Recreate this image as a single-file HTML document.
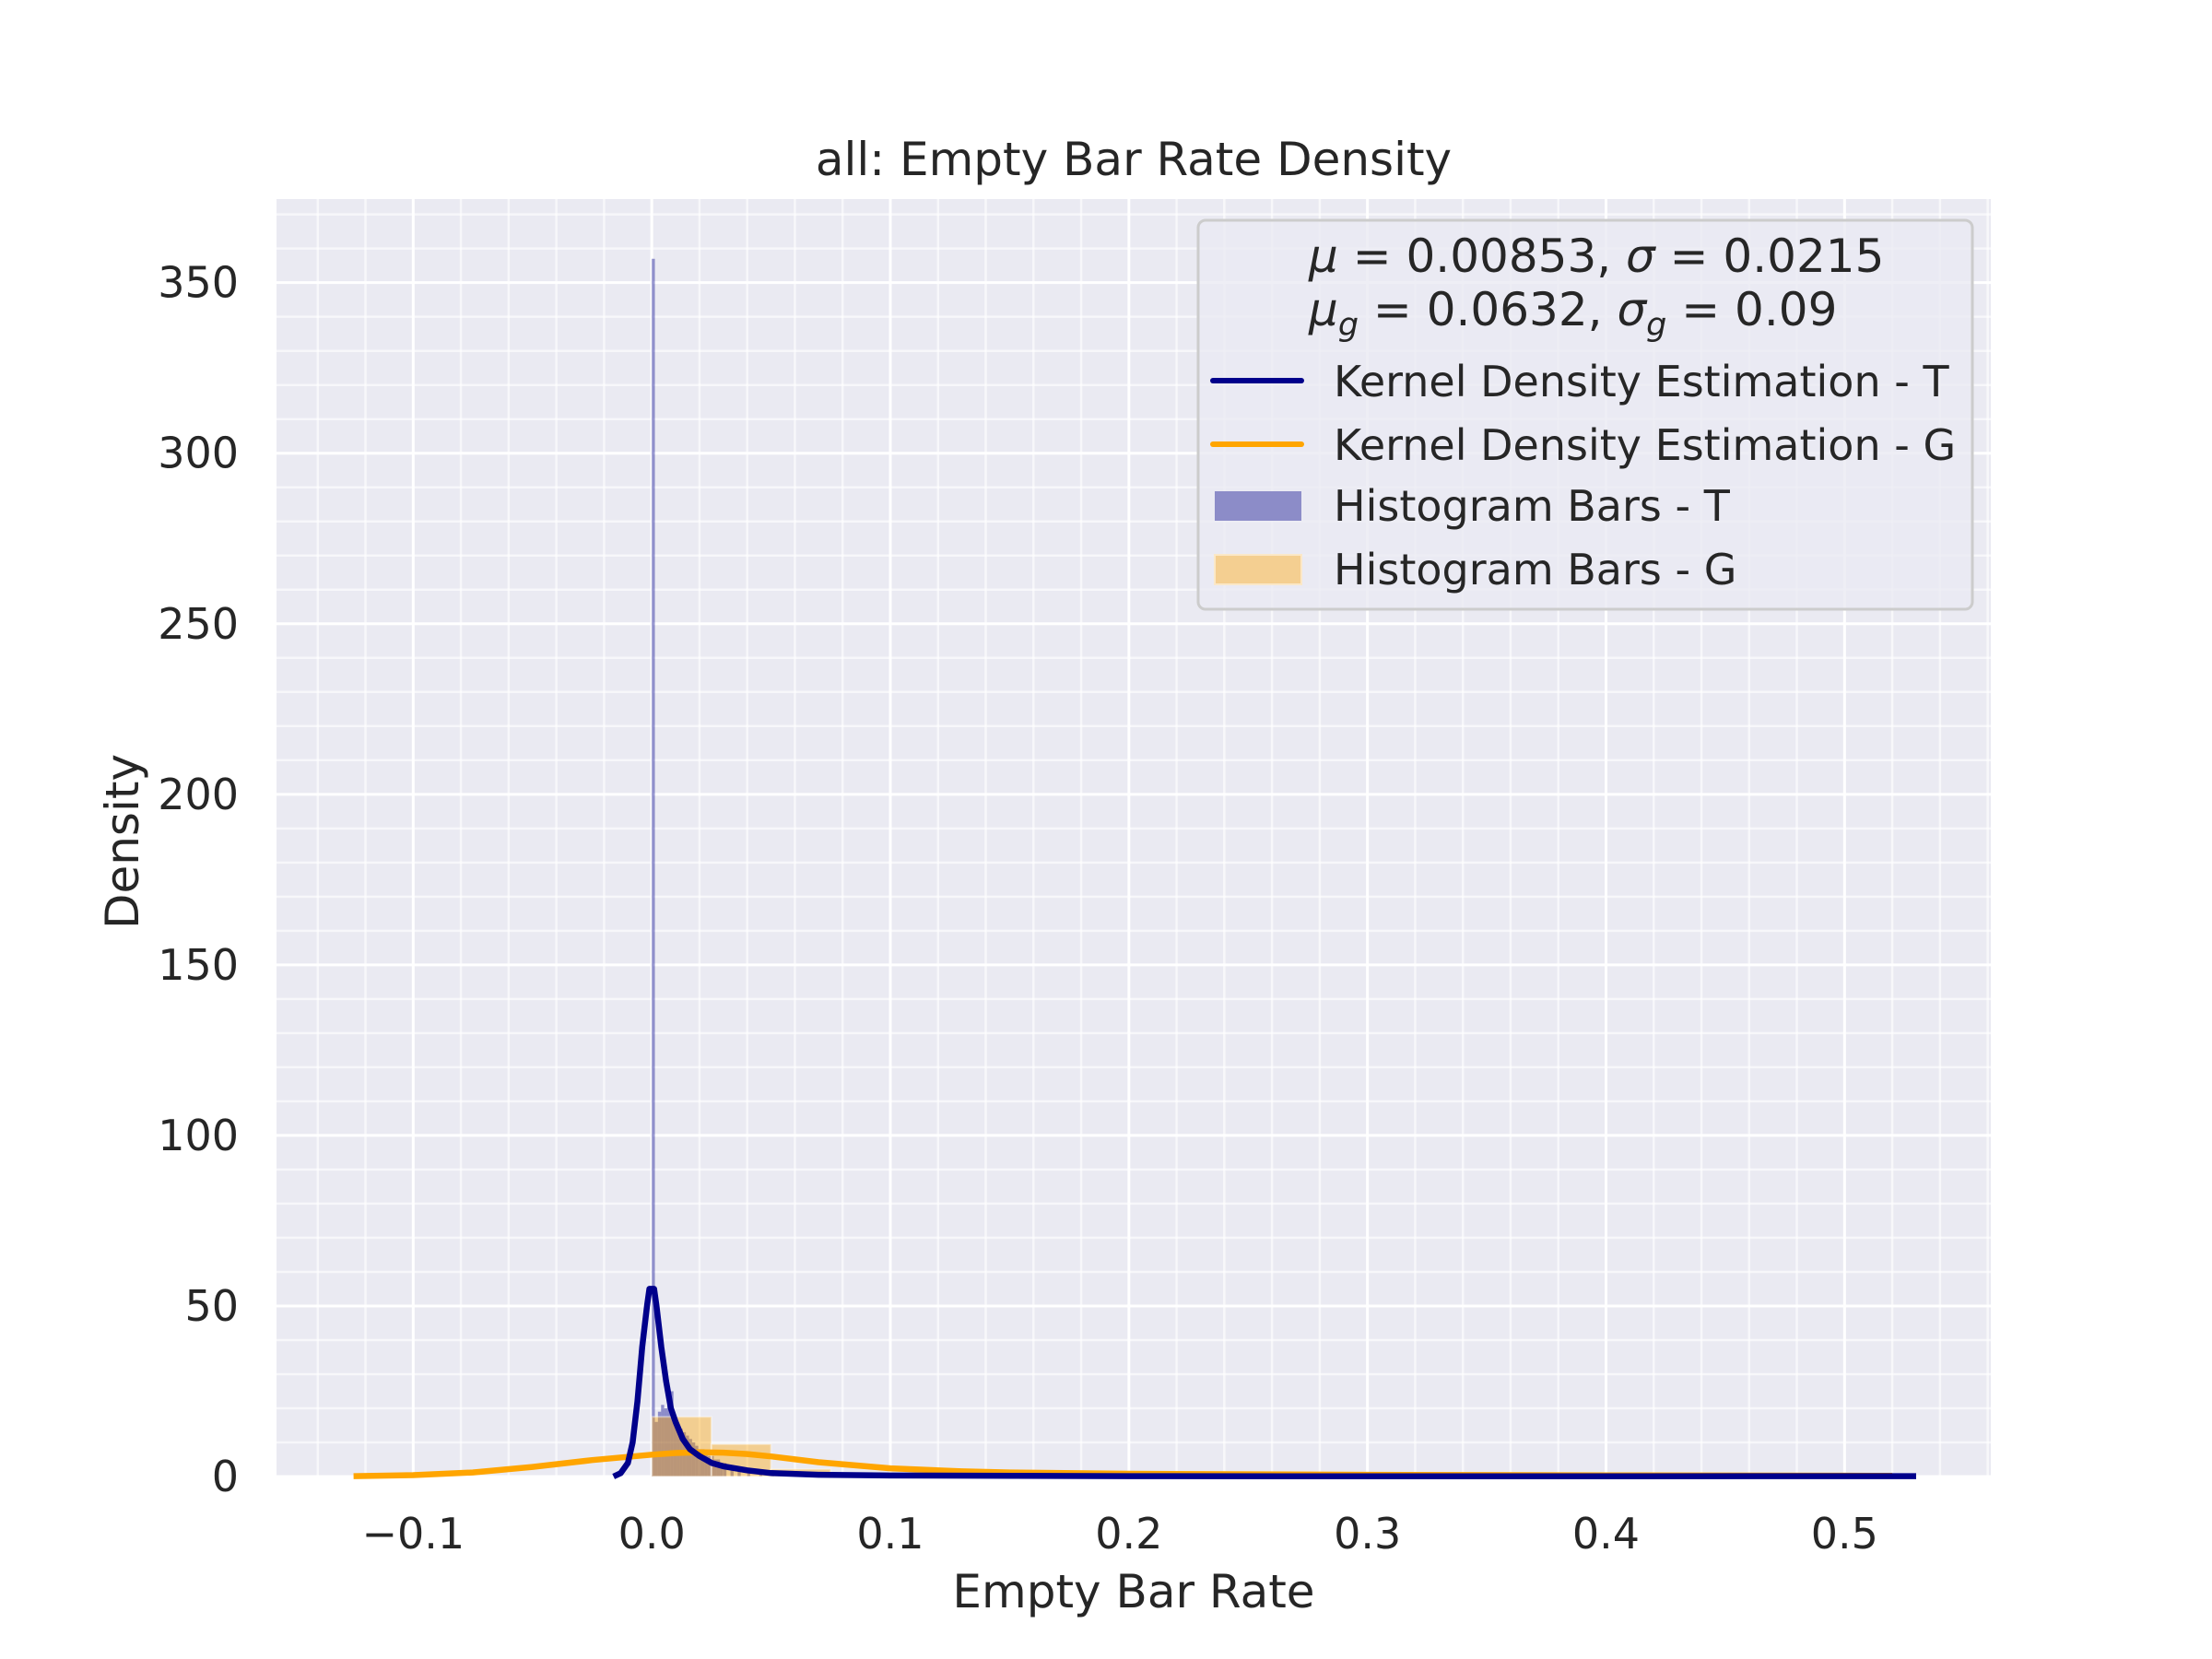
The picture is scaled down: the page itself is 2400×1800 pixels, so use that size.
<!DOCTYPE html>
<html><head><meta charset="utf-8"><style>
html,body{margin:0;padding:0;background:#fff;}
svg{display:block;font-family:"DejaVu Sans","Liberation Sans",sans-serif;}
</style></head><body>
<svg id="chart" width="2400" height="1800" viewBox="0 0 2400 1800" xmlns="http://www.w3.org/2000/svg">
<rect x="0" y="0" width="2400" height="1800" fill="#ffffff"/>
<rect x="300" y="216" width="1860" height="1386" fill="#eaeaf2"/>
<g id="grid"></g>
<g id="marks"></g>
<g id="axes"></g>
<text x="1230" y="190" font-size="50" text-anchor="middle" fill="#262626">all: Empty Bar Rate Density</text>
<text x="1230" y="1744" font-size="50" text-anchor="middle" fill="#262626">Empty Bar Rate</text>
<text transform="translate(150,913) rotate(-90)" font-size="50" text-anchor="middle" fill="#262626">Density</text>
<g>
  <rect x="1300" y="239" width="840" height="422" rx="8" fill="#eaeaf2" fill-opacity="0.8" stroke="#cccccc" stroke-width="3"/>
  <text x="1420" y="295" font-size="50" fill="#262626"><tspan font-style="italic">μ</tspan> = 0.00853,  <tspan font-style="italic">σ</tspan> = 0.0215</text>
  <text x="1420" y="353" font-size="50" fill="#262626"><tspan font-style="italic">μ</tspan><tspan font-style="italic" font-size="35" dy="11">g</tspan><tspan dy="-11"> = 0.0632,  </tspan><tspan font-style="italic">σ</tspan><tspan font-style="italic" font-size="35" dy="11">g</tspan><tspan dy="-11"> = 0.09</tspan></text>
  <line x1="1316" y1="413" x2="1412" y2="413" stroke="#00008b" stroke-width="6" stroke-linecap="round"/>
  <text x="1447" y="430" font-size="46" fill="#262626">Kernel Density Estimation - T</text>
  <line x1="1316" y1="482" x2="1412" y2="482" stroke="#ffa500" stroke-width="6" stroke-linecap="round"/>
  <text x="1447" y="499" font-size="46" fill="#262626">Kernel Density Estimation - G</text>
  <rect x="1318" y="533" width="94" height="32" fill="#8c8cc8"/>
  <text x="1447" y="565" font-size="46" fill="#262626">Histogram Bars - T</text>
  <rect x="1318" y="602" width="94" height="32" fill="#f4cf91" stroke="#fbe8c8" stroke-width="2"/>
  <text x="1447" y="634" font-size="46" fill="#262626">Histogram Bars - G</text>
</g>
</svg>
<script>
const xTicks = [-0.1, 0.0, 0.1, 0.2, 0.3, 0.4, 0.5];
const xTickLabels = ["−0.1", "0.0", "0.1", "0.2", "0.3", "0.4", "0.5"];
const yTicks = [0, 50, 100, 150, 200, 250, 300, 350];
const yTickLabels = ["0", "50", "100", "150", "200", "250", "300", "350"];
const tHistX = [0.0, 0.0013, 0.0026, 0.0039, 0.0052, 0.0065, 0.0078, 0.0091, 0.0104, 0.0117, 0.013, 0.0143, 0.0156, 0.0169, 0.0182, 0.0195, 0.0208, 0.0221, 0.0234, 0.0247, 0.026, 0.0273, 0.0286, 0.03, 0.033, 0.036, 0.04, 0.045, 0.05, 0.516];
const tHistH = [357, 16, 19, 21, 20, 21, 25, 16, 15, 14, 13, 12, 11, 10, 9, 8, 8, 7, 6, 6, 5, 5, 4, 4, 3, 2.5, 2, 1.5, 1, 0.5];
const gHistX = [0.0, 0.025, 0.05, 0.075, 0.1, 0.125, 0.15, 0.2, 0.25, 0.3, 0.35, 0.4, 0.45];
const gHistH = [17.5, 9.5, 2.2, 1.0, 0.8, 0.6, 0.5, 0.4, 0.35, 0.3, 0.3, 0.25, 0.25];
const gBinW = [0.025, 0.025, 0.025, 0.025, 0.025, 0.025, 0.05, 0.05, 0.05, 0.05, 0.05, 0.05, 0.06];
const kdeTX = [-0.016, -0.013, -0.01, -0.008, -0.006, -0.004, -0.002, -0.001, 0.0, 0.001, 0.002, 0.004, 0.006, 0.008, 0.01, 0.013, 0.016, 0.02, 0.025, 0.03, 0.04, 0.05, 0.07, 0.1, 0.2, 0.3, 0.4, 0.5, 0.53];
const kdeTY = [0, 1, 4, 10, 22, 38, 50, 55, 55, 55, 50, 38, 28, 20, 16, 11, 8, 6, 4, 3, 1.8, 1, 0.5, 0.3, 0.1, 0.05, 0.05, 0.1, 0.1];
const kdeGX = [-0.125, -0.1, -0.075, -0.05, -0.025, 0.0, 0.01, 0.02, 0.03, 0.04, 0.05, 0.07, 0.1, 0.13, 0.15, 0.2, 0.3, 0.4, 0.5, 0.52];
const kdeGY = [0.1, 0.4, 1.2, 2.8, 4.8, 6.4, 6.9, 7.1, 7.0, 6.6, 5.9, 4.2, 2.4, 1.5, 1.2, 0.8, 0.5, 0.35, 0.25, 0.2];

const L = 300, R = 2160, T = 216, B = 1602;
const xMin = -0.1573, xMax = 0.5613, yMin = 0, yMax = 374.5;
function xs(v){ return L + (v - xMin) / (xMax - xMin) * (R - L); }
function ys(v){ return B - (v - yMin) / (yMax - yMin) * (B - T); }
const NS = "http://www.w3.org/2000/svg";
function mk(tag, attrs, parent){
  const e = document.createElementNS(NS, tag);
  for (const k in attrs) e.setAttribute(k, attrs[k]);
  parent.appendChild(e); return e;
}
const grid = document.getElementById('grid');
const marks = document.getElementById('marks');
const axes = document.getElementById('axes');

for (let i = -8; i <= 28; i++) {
  const v = i * 0.02;
  if (v < xMin || v > xMax) continue;
  const ln = mk('line', {x1: xs(v), x2: xs(v), y1: T, y2: B, stroke: '#ffffff', 'stroke-opacity': 0.6, 'stroke-width': 2.5}, grid);
  
  
}
for (let v = 0; v <= yMax; v += 10) {
  const ln = mk('line', {x1: L, x2: R, y1: ys(v), y2: ys(v), stroke: '#ffffff', 'stroke-opacity': 0.6, 'stroke-width': 2.5}, grid);
  
  
}
xTicks.forEach((v, i) => {
  const ln = mk('line', {x1: xs(v), x2: xs(v), y1: T, y2: B, stroke: '#ffffff', 'stroke-width': 3}, grid);
  
  
  const t = mk('text', {x: xs(v), y: 1680, 'font-size': 46, 'text-anchor': 'middle', fill: '#262626'}, axes);
  t.textContent = xTickLabels[i];
  
  
});
yTicks.forEach((v, i) => {
  const ln = mk('line', {x1: L, x2: R, y1: ys(v), y2: ys(v), stroke: '#ffffff', 'stroke-width': 3}, grid);
  
  
  const t = mk('text', {x: 259, y: ys(v) + 16, 'font-size': 46, 'text-anchor': 'end', fill: '#262626'}, axes);
  t.textContent = yTickLabels[i];
  
  
});
const tW = 0.0013;
tHistX.forEach((v, i) => {
  const w = (i === tHistX.length - 1) ? 0.014 : tW;
  const r = mk('rect', {x: xs(v), y: ys(tHistH[i]), width: Math.max(1.5, xs(v + w) - xs(v)), height: ys(0) - ys(tHistH[i]), fill: '#00008b', 'fill-opacity': 0.4}, marks);
  
  
});
gHistX.forEach((v, i) => {
  const r = mk('rect', {x: xs(v), y: ys(gHistH[i]), width: xs(v + gBinW[i]) - xs(v), height: ys(0) - ys(gHistH[i]), fill: '#ffa500', 'fill-opacity': 0.4, stroke: '#ffffff', 'stroke-opacity': 0.4, 'stroke-width': 2}, marks);
  
  
});
function path(xa, ya){ return xa.map((v, i) => (i ? 'L' : 'M') + xs(v).toFixed(1) + ',' + ys(ya[i]).toFixed(1)).join(' '); }
const pg = mk('path', {d: path(kdeGX, kdeGY), fill: 'none', stroke: '#ffa500', 'stroke-width': 6.5, 'stroke-linejoin': 'round'}, marks);


const pt = mk('path', {d: path(kdeTX, kdeTY), fill: 'none', stroke: '#00008b', 'stroke-width': 6.5, 'stroke-linejoin': 'round'}, marks);


</script>
</body></html>
